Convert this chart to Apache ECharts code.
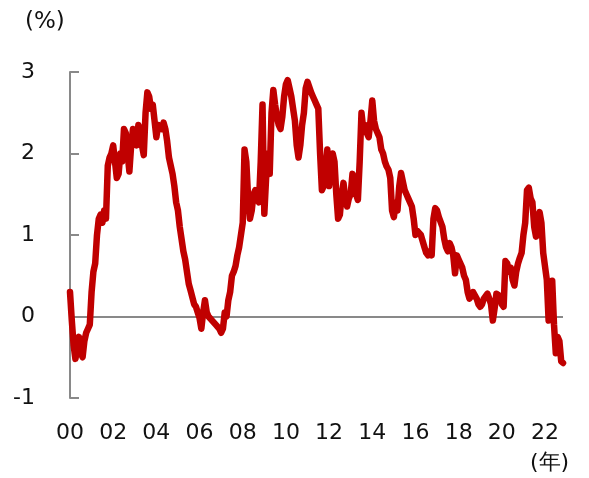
<!DOCTYPE html>
<html>
<head>
<meta charset="utf-8">
<script src="https://cdn.jsdelivr.net/npm/echarts@6/dist/echarts.min.js"></script>
<style>
html,body{margin:0;padding:0;background:#fff;}
#chart{width:589px;height:478px;}
</style>
</head>
<body>
<div id="chart"></div>
<script>
// Monthly series starting January 2000 (%)
const startYear = 2000;
const values = [
  // 2000
  0.30,-0.05,-0.35,-0.52,-0.40,-0.25,-0.45,-0.50,-0.30,-0.20,-0.15,-0.10,
  // 2001
  0.30,0.55,0.65,1.00,1.20,1.25,1.15,1.30,1.20,1.85,1.95,2.00,
  // 2002
  2.10,1.90,1.70,1.75,2.00,1.90,2.30,2.25,2.00,1.78,2.10,2.30,
  // 2003
  2.20,2.10,2.35,2.30,2.10,1.98,2.50,2.75,2.70,2.55,2.60,2.40,
  // 2004
  2.20,2.35,2.35,2.30,2.38,2.30,2.15,1.95,1.85,1.75,1.60,1.40,
  // 2005
  1.30,1.10,0.95,0.80,0.70,0.55,0.40,0.32,0.30,0.15,0.12,0.05,
  // 2006
  -0.02,-0.15,0.05,0.20,0.05,0.00,-0.02,-0.05,-0.05,-0.10,-0.12,-0.15,
  // 2007
  -0.20,-0.15,0.05,0.00,0.20,0.30,0.50,0.55,0.62,0.75,0.85,1.00,
  // 2008
  1.15,2.05,1.90,1.45,1.20,1.30,1.50,1.55,1.45,1.40,1.90,2.60,
  // 2009
  1.26,1.70,2.00,1.75,2.50,2.78,2.60,2.45,2.35,2.30,2.45,2.70,
  // 2010
  2.85,2.90,2.80,2.70,2.55,2.40,2.10,1.95,2.10,2.35,2.50,2.80,
  // 2011
  2.88,2.90,2.75,2.70,2.65,2.60,2.55,2.00,1.55,1.60,1.80,2.05,
  // 2012
  1.60,1.80,2.00,1.90,1.50,1.20,1.25,1.50,1.64,1.45,1.35,1.45,
  // 2013
  1.50,1.75,1.70,1.50,1.43,1.90,2.50,2.30,2.35,2.25,2.20,2.40,
  // 2014
  2.65,2.40,2.30,2.25,2.20,2.05,2.00,1.90,1.84,1.80,1.70,1.30,
  // 2015
  1.22,1.40,1.30,1.60,1.76,1.75,1.55,1.50,1.45,1.45,1.35,1.20,
  // 2016
  1.00,1.05,1.05,1.00,1.00,0.85,0.78,0.75,0.80,0.75,1.20,1.33,
  // 2017
  1.30,1.22,1.20,1.10,0.95,0.85,0.80,0.90,0.85,0.75,0.53,0.75,
  // 2018
  0.70,0.65,0.60,0.50,0.45,0.30,0.22,0.25,0.30,0.30,0.22,0.15,
  // 2019
  0.12,0.15,0.22,0.25,0.28,0.22,0.15,-0.05,0.10,0.28,0.30,0.25,
  // 2020
  0.15,0.12,0.68,0.65,0.55,0.60,0.45,0.38,0.55,0.65,0.72,0.78,
  // 2021
  1.00,1.15,1.55,1.58,1.45,1.40,1.10,0.98,1.20,1.28,1.15,0.78,
  // 2022
  0.80,0.45,-0.05,0.20,0.44,-0.10,-0.45,-0.25,-0.30,-0.55,-0.57
];
const yTicks = [-1, 0, 1, 2, 3];
const xTickYears = [2000,2002,2004,2006,2008,2010,2012,2014,2016,2018,2020,2022];

const seriesData = values.map((v, i) => [startYear + i / 12, v]);
const xMax = startYear + (values.length - 1) / 12;

const FONT = '"DejaVu Sans", Verdana, sans-serif';
const chart = echarts.init(document.getElementById('chart'), null, {renderer: 'canvas'});
chart.setOption({
  animation: false,
  backgroundColor: '#ffffff',
  grid: {left: 70, right: 26, top: 72, bottom: 80, containLabel: false},
  xAxis: {
    type: 'value',
    min: startYear,
    max: xMax,
    interval: 2,
    axisLine: {show: false},
    axisTick: {show: false},
    splitLine: {show: false},
    axisLabel: {
      showMaxLabel: false,
      margin: 24,
      fontSize: 22,
      fontFamily: FONT,
      color: '#111',
      formatter: function (v) {
        const y = Math.round(v);
        if (Math.abs(v - y) > 1e-6 || xTickYears.indexOf(y) < 0) return '';
        return String(y % 100).padStart(2, '0');
      }
    }
  },
  yAxis: {
    type: 'value',
    min: yTicks[0],
    max: yTicks[yTicks.length - 1],
    interval: 1,
    axisLine: {show: true, lineStyle: {color: '#898989', width: 2}},
    axisTick: {show: true, inside: true, length: 9, lineStyle: {color: '#898989', width: 2}},
    splitLine: {
      show: true,
      lineStyle: {
        width: 2,
        color: yTicks.map(t => t === 0 ? '#898989' : 'rgba(0,0,0,0)')
      }
    },
    axisLabel: {
      margin: 35,
      fontSize: 22,
      fontFamily: FONT,
      color: '#111'
    }
  },
  graphic: [
    {type: 'text', left: 25, top: 11, style: {text: '(%)', font: '23px ' + FONT, fill: '#111'}},
    {type: 'text', left: 530, top: 452, style: {text: '(年)', font: '22px ' + FONT, fill: '#111'}}
  ],
  series: [{
    type: 'line',
    data: seriesData,
    showSymbol: false,
    symbol: 'none',
    lineStyle: {color: '#C00000', width: 6.5, join: 'round', cap: 'round'},
    z: 5
  }]
});
</script>
</body>
</html>
